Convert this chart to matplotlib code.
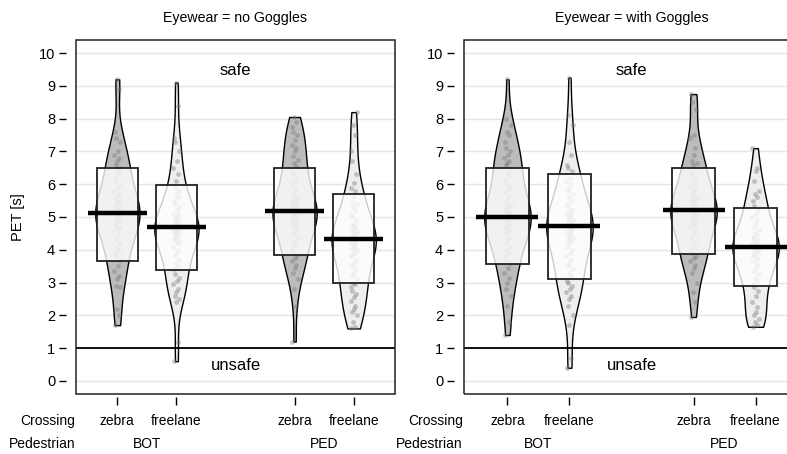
import numpy as np
import matplotlib.pyplot as plt

plt.rcParams['font.family'] = ['Liberation Sans', 'DejaVu Sans']

# PET samples per group: BOT/zebra, BOT/freelane, PED/zebra, PED/freelane
crossing = ['zebra', 'freelane', 'zebra', 'freelane']
pedestrian = ['BOT', 'PED']
positions = [1, 2, 4, 5]

no_goggles = [
    [1.7, 2.0, 2.2, 2.85, 2.9, 3.1, 3.2, 3.35, 3.5,
     3.7, 3.8, 3.9, 4.0, 4.1, 4.2, 4.3, 4.4, 4.5, 4.6,
     4.65, 4.7, 4.75, 4.8, 4.85, 4.9, 4.95, 5.0, 5.05, 5.1, 5.15, 5.2,
     5.25, 5.3, 5.35, 5.4, 5.45, 5.5, 5.55, 5.6,
     5.7, 5.8, 5.9, 6.0, 6.1, 6.2, 6.3, 6.4, 6.5,
     6.6, 6.7, 6.8, 6.9, 7.0, 7.3, 7.4, 7.6, 8.9, 9.2],
    [0.6, 1.2, 2.4, 2.5, 2.6, 2.7, 2.8, 2.95, 3.05, 3.15, 3.25,
     3.4, 3.5, 3.6, 3.7, 3.8, 3.9, 4.0, 4.1, 4.2,
     4.25, 4.3, 4.35, 4.4, 4.45, 4.5, 4.5, 4.55, 4.6, 4.6, 4.65, 4.7, 4.7,
     4.75, 4.8, 4.85, 4.9, 4.95, 5.0, 5.05, 5.1,
     5.2, 5.3, 5.4, 5.5, 5.6, 5.7, 5.8, 5.9,
     6.1, 6.3, 6.5, 6.7, 7.0, 7.3, 7.4, 8.4, 9.1],
    [1.2, 2.3, 2.8, 3.1, 3.3, 3.45, 3.55, 3.65, 3.75,
     3.85, 3.95, 4.05, 4.15, 4.25, 4.35, 4.45, 4.55, 4.65,
     4.7, 4.75, 4.8, 4.85, 4.9, 4.95, 5.0, 5.05, 5.1, 5.15, 5.2, 5.25,
     5.3, 5.35, 5.4, 5.45, 5.5, 5.55, 5.6,
     5.7, 5.8, 5.9, 6.0, 6.1, 6.2, 6.3, 6.4,
     6.55, 6.65, 6.75, 6.85, 7.0, 7.1, 7.2, 7.35, 7.5, 7.6, 7.75, 7.9,
     8.05],
    [1.6, 1.65, 1.8, 2.0, 2.1, 2.2, 2.3, 2.45, 2.55, 2.65, 2.75, 2.85,
     2.95,
     3.0, 3.1, 3.2, 3.3, 3.4, 3.5, 3.6, 3.7, 3.8,
     3.85, 3.9, 3.95, 4.0, 4.05, 4.1, 4.15, 4.2, 4.25, 4.3, 4.35, 4.4,
     4.45, 4.5, 4.55, 4.6, 4.65, 4.7, 4.75, 4.8,
     4.9, 5.0, 5.1, 5.2, 5.3, 5.4, 5.5, 5.6,
     5.8, 5.9, 6.05, 6.3, 6.7, 7.0, 7.5, 7.8, 8.2],
]
with_goggles = [
    [1.4, 1.8, 2.3, 2.6, 2.8, 3.0, 3.15, 3.3, 3.45,
     3.6, 3.7, 3.8, 3.9, 4.0, 4.1, 4.2, 4.3, 4.4, 4.5,
     4.55, 4.6, 4.65, 4.7, 4.75, 4.8, 4.85, 4.9, 4.95, 5.0, 5.05, 5.1,
     5.15, 5.2, 5.25, 5.3, 5.35, 5.4, 5.45,
     5.55, 5.65, 5.75, 5.85, 5.95, 6.05, 6.15, 6.25, 6.35, 6.45,
     6.6, 6.65, 6.7, 6.8, 6.9, 7.0, 7.1, 7.3, 7.5, 7.6, 7.8, 8.0, 9.2],
    [0.4, 0.7, 1.7, 2.0, 2.3, 2.5, 2.6, 2.7, 2.8, 2.9, 3.0, 3.05,
     3.2, 3.3, 3.4, 3.5, 3.6, 3.7, 3.8, 3.9, 4.0, 4.1, 4.2,
     4.25, 4.3, 4.35, 4.4, 4.45, 4.5, 4.55, 4.6, 4.65, 4.7, 4.75, 4.8,
     4.85, 4.9, 4.95, 5.0, 5.05, 5.1, 5.15, 5.2,
     5.3, 5.4, 5.5, 5.6, 5.7, 5.8, 5.9, 6.0, 6.1, 6.2,
     6.4, 6.5, 6.6, 6.9, 7.3, 7.8, 8.1, 9.25],
    [1.95, 2.4, 2.7, 3.0, 3.3, 3.45, 3.55, 3.65, 3.75, 3.8,
     3.9, 4.0, 4.1, 4.2, 4.3, 4.4, 4.5, 4.6, 4.7,
     4.75, 4.8, 4.85, 4.9, 4.95, 5.0, 5.05, 5.1, 5.15, 5.2, 5.25, 5.3,
     5.35, 5.4, 5.45, 5.5, 5.55, 5.6, 5.65,
     5.75, 5.85, 5.95, 6.05, 6.15, 6.25, 6.35, 6.45,
     6.6, 6.65, 6.7, 6.9, 7.1, 7.4, 7.5, 8.3, 8.5, 8.75],
    [1.65, 1.7, 1.8, 1.9, 2.0, 2.1, 2.25, 2.4, 2.6, 2.75, 2.85,
     2.95, 3.05, 3.15, 3.25, 3.35, 3.45, 3.55, 3.65,
     3.7, 3.75, 3.8, 3.85, 3.9, 3.95, 4.0, 4.05, 4.1, 4.15, 4.2, 4.25,
     4.3, 4.35, 4.4, 4.45, 4.5,
     4.6, 4.7, 4.8, 4.9, 5.0, 5.1, 5.2,
     5.35, 5.5, 5.6, 5.7, 5.8, 6.1, 6.4, 6.5, 7.1],
]

# group means and mean +/- sd band
means_ng = [5.12, 4.69, 5.17, 4.33]
lo_ng = [3.66, 3.37, 3.83, 2.99]
hi_ng = [6.51, 5.99, 6.48, 5.69]
means_g = [5.01, 4.73, 5.20, 4.09]
lo_g = [3.56, 3.11, 3.87, 2.89]
hi_g = [6.48, 6.31, 6.50, 5.28]

bean_colors = ['#bcbcbc', '#eeeeee', '#bcbcbc', '#eeeeee']
jitter = [-0.04, 0.02, -0.01, 0.05, -0.03, 0.0, 0.03, -0.05, 0.01, 0.04, -0.02]


def pirate(ax, samples, means, lo, hi, title, ylabel=None):
    ax.set_xlim(0.3, 5.7)
    ax.set_ylim(-0.4, 10.4)
    ax.set_yticks(range(0, 11))
    ax.grid(axis='y', color='#e4e4e4', lw=1)
    ax.set_axisbelow(True)

    parts = ax.violinplot(samples, positions=positions, widths=0.75,
                          showextrema=False, bw_method=0.35)
    for body, c in zip(parts['bodies'], bean_colors):
        body.set_facecolor(c)
        body.set_edgecolor('black')
        body.set_linewidth(1.0)
        body.set_alpha(1)

    for p, vals in zip(positions, samples):
        xs = [p + jitter[i % len(jitter)] for i in range(len(vals))]
        ax.scatter(xs, vals, s=12, color='#777777', alpha=0.4, lw=0, zorder=3)

    heights = np.array(hi) - np.array(lo)
    ax.bar(positions, heights, bottom=lo, width=0.7,
           facecolor=(1, 1, 1, 0.8), edgecolor='#222222', lw=1.3, zorder=4)
    ax.hlines(means, np.array(positions) - 0.5, np.array(positions) + 0.5,
              color='black', lw=3.2, zorder=5)

    ax.axhline(1, color='black', lw=1.3, zorder=6)
    ax.text(3, 9.47, 'safe', ha='center', va='center', fontsize=12)
    ax.text(3, 0.46, 'unsafe', ha='center', va='center', fontsize=12)

    # frame drawn separately so the ticks can sit away from it
    for s in ax.spines.values():
        s.set_color('none')
    ax.spines['left'].set_position(('outward', 7))
    ax.spines['bottom'].set_position(('outward', 2))
    ax.add_patch(plt.Rectangle((0, 0), 1, 1, transform=ax.transAxes,
                               fill=False, lw=1.1, ec='#222222', clip_on=False,
                               zorder=7))

    ax.tick_params(axis='y', length=5, width=1, labelsize=10.5, pad=3)
    ax.tick_params(axis='x', length=6, width=1, labelsize=10, pad=6.5)
    ax.set_xticks(positions, labels=crossing)

    for x, name in zip([1.5, 4.5], pedestrian):
        ax.annotate(name, (x, -0.142), xycoords=('data', 'axes fraction'),
                    ha='center', va='center', fontsize=10)
    ax.annotate('Crossing', (-0.003, -0.075), xycoords='axes fraction',
                ha='right', va='center', fontsize=10)
    ax.annotate('Pedestrian', (-0.003, -0.142), xycoords='axes fraction',
                ha='right', va='center', fontsize=10)

    ax.set_title(title, fontsize=10.2, pad=13)
    if ylabel:
        ax.set_ylabel(ylabel, fontsize=10.5)
        ax.yaxis.set_label_coords(-0.16, 0.5)


fig = plt.figure(figsize=(7.87, 4.54), dpi=100)
ax1 = fig.add_axes([76 / 787, 60 / 454, 319 / 787, 354 / 454])
ax2 = fig.add_axes([464 / 787, 60 / 454, 335 / 787, 354 / 454])

pirate(ax1, no_goggles, means_ng, lo_ng, hi_ng, 'Eyewear = no Goggles', 'PET [s]')
pirate(ax2, with_goggles, means_g, lo_g, hi_g, 'Eyewear = with Goggles')

fig.savefig('out.png', dpi=100)
